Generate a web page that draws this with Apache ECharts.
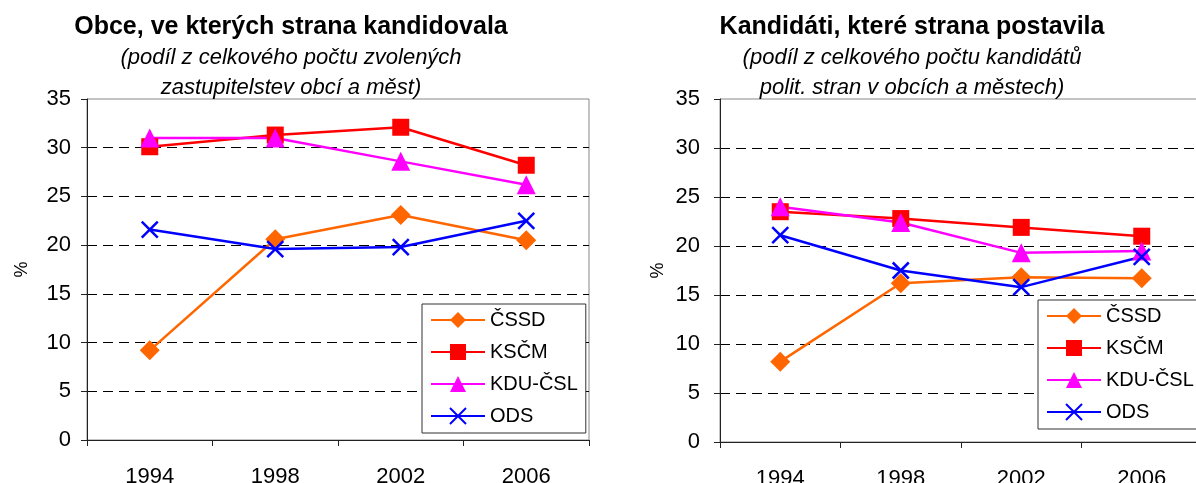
<!DOCTYPE html>
<html>
<head>
<meta charset="utf-8">
<style>
  html, body { margin: 0; padding: 0; background: #fff; }
  #chart { width: 1196px; height: 483px; }
</style>
<script src="https://cdn.jsdelivr.net/npm/echarts@6/dist/echarts.min.js"></script>
</head>
<body>
<div id="chart"></div>
<script>
const years = ['1994', '1998', '2002', '2006']
const parties = ['ČSSD', 'KSČM', 'KDU-ČSL', 'ODS']
const yTicks = [0, 35, 5] // min, max, interval

// left chart: obce, ve kterých strana kandidovala (%)
const obceCssd = [9.2, 20.6, 23.1, 20.5]
const obceKscm = [30.1, 31.3, 32.1, 28.2]
const obceKdu = [31.0, 31.0, 28.6, 26.2]
const obceOds = [21.6, 19.6, 19.8, 22.5]

// right chart: kandidáti, které strana postavila (%)
const kandCssd = [8.2, 16.2, 16.8, 16.7]
const kandKscm = [23.5, 22.8, 21.9, 21.0]
const kandKdu = [24.0, 22.4, 19.3, 19.5]
const kandOds = [21.1, 17.5, 15.8, 18.9]

const FONT = "'Liberation Sans', Arial, sans-serif"

const partyStyle = {
  'ČSSD': { color: '#FF6600', symbol: 'diamond', size: 20 },
  'KSČM': { color: '#FF0000', symbol: 'rect', size: 17 },
  'KDU-ČSL': { color: '#FF00FF', symbol: 'triangle', size: 19 },
  'ODS': { color: '#0000FF', symbol: 'path://M0,0L10,10M10,0L0,10', size: 16, stroke: true }
}

const makeSeries = (name, data, idx) => {
  const st = partyStyle[name]
  return {
    name: name,
    type: 'line',
    xAxisIndex: idx,
    yAxisIndex: idx,
    data: data,
    symbol: st.symbol,
    symbolSize: st.size,
    showAllSymbol: true,
    lineStyle: { color: st.color, width: 2.5 },
    itemStyle: st.stroke
      ? { color: 'transparent', borderColor: st.color, borderWidth: 2.5 }
      : { color: st.color, borderWidth: 0 },
    z: 3
  }
}

const makeXAxis = (idx) => ({
  type: 'category',
  gridIndex: idx,
  data: years,
  boundaryGap: true,
  axisLine: { lineStyle: { color: '#222', width: 1 } },
  axisTick: { show: true, inside: false, length: 6, lineStyle: { color: '#222' } },
  axisLabel: { color: '#000', fontSize: 22, fontFamily: FONT, margin: 26 },
  splitLine: { show: false }
})

const makeYAxis = (idx, margin, nameGap) => ({
  type: 'value',
  gridIndex: idx,
  min: yTicks[0],
  max: yTicks[1],
  interval: yTicks[2],
  name: '%',
  nameLocation: 'middle',
  nameRotate: 90,
  nameGap: nameGap,
  nameTextStyle: { color: '#000', fontSize: 18, fontFamily: FONT },
  axisLine: { show: true, lineStyle: { color: '#222', width: 1 } },
  axisTick: { show: true, inside: false, length: 6, lineStyle: { color: '#222' } },
  axisLabel: { color: '#000', fontSize: 22, fontFamily: FONT, margin: margin },
  splitLine: {
    show: true,
    showMinLine: false,
    showMaxLine: false,
    lineStyle: { color: '#000', type: [10, 6], width: 1 }
  }
})

const makeLegend = (left, top) => ({
  orient: 'vertical',
  left: left,
  top: top,
  data: parties,
  backgroundColor: '#fff',
  borderColor: '#333',
  borderWidth: 1,
  borderRadius: 0,
  padding: [6, 8, 7, 8],
  itemWidth: 54,
  itemHeight: 20,
  itemGap: 12,
  itemTextGap: 5,
  selectedMode: false,
  textStyle: { color: '#000', fontSize: 20, fontFamily: FONT, lineHeight: 20 },
  z: 10
})

const makeTitle = (text, sub, center) => ({
  text: text,
  subtext: sub,
  left: center,
  textAlign: 'center',
  top: 8,
  itemGap: 2,
  textStyle: { color: '#000', fontSize: 25, fontWeight: 'bold', fontFamily: FONT, lineHeight: 28 },
  subtextStyle: { color: '#000', fontSize: 22, fontStyle: 'italic', fontFamily: FONT, lineHeight: 30 }
})

const chart = echarts.init(document.getElementById('chart'))

const option = {
  backgroundColor: '#fff',
  animation: false,
  title: [
    makeTitle('Obce, ve kterých strana kandidovala', '(podíl z celkového počtu zvolených\nzastupitelstev obcí a měst)', 286),
    makeTitle('Kandidáti, které strana postavila', '(podíl z celkového počtu kandidátů\npolit. stran v obcích a městech)', 907)
  ],
  legend: [makeLegend(422, 304), makeLegend(1038, 300)],
  grid: [
    { left: 87, top: 99, width: 502, height: 341, outerBoundsMode: 'none', containLabel: false, show: true, borderColor: '#888', borderWidth: 1, backgroundColor: 'transparent' },
    { left: 720, top: 99, width: 482, height: 343, outerBoundsMode: 'none', containLabel: false, show: true, borderColor: '#888', borderWidth: 1, backgroundColor: 'transparent' }
  ],
  xAxis: [makeXAxis(0), makeXAxis(1)],
  yAxis: [makeYAxis(0, 16, 56), makeYAxis(1, 20, 53)],
  series: [
    makeSeries('ČSSD', obceCssd, 0),
    makeSeries('KSČM', obceKscm, 0),
    makeSeries('KDU-ČSL', obceKdu, 0),
    makeSeries('ODS', obceOds, 0),
    makeSeries('ČSSD', kandCssd, 1),
    makeSeries('KSČM', kandKscm, 1),
    makeSeries('KDU-ČSL', kandKdu, 1),
    makeSeries('ODS', kandOds, 1)
  ]
}

chart.setOption(option)
</script>
</body>
</html>
